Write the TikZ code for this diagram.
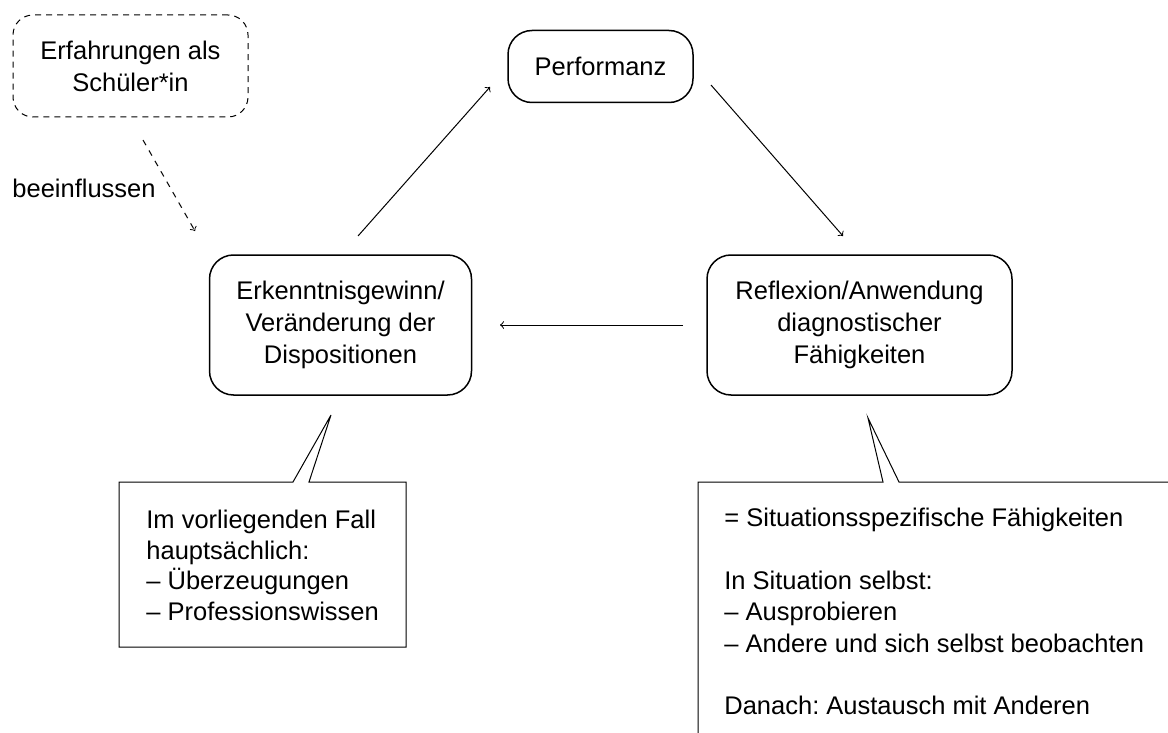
\documentclass[tikz,border=0pt]{standalone}
\usepackage{fontspec}
\setmainfont{Liberation Sans}
\begin{document}
\frenchspacing
\begin{tikzpicture}[x=0.5pt,y=-0.5pt,
  txt/.style={font=\fontsize{12.75}{16}\selectfont, inner sep=0pt},
  mainbox/.style={txt, draw, line width=0.75pt, rounded corners=12pt, align=center},
  dashbox/.style={mainbox, dashed, line width=0.5pt, dash pattern=on 3pt off 2.5pt},
  arr/.style={->, line width=0.5pt},
  callout/.style={line width=0.5pt}]
\useasboundingbox (0,0) rectangle (1168,733);
\clip (0,0) rectangle (1168,733);
% boxes
\node[mainbox, minimum width=92.5pt, minimum height=36pt, rounded corners=12pt] (perf) at (600.5,66.5) {Performanz};
\node[mainbox, minimum width=131pt, minimum height=70pt] (erk) at (340.5,325) {Erkenntnisgewinn/\\Veränderung der\\Dispositionen};
\node[mainbox, minimum width=152.5pt, minimum height=70pt] (refl) at (859.5,325) {Reflexion/Anwendung\\diagnostischer\\Fähigkeiten};
\node[dashbox, minimum width=117.5pt, minimum height=51pt, rounded corners=10pt] (erf) at (130.5,66) {Erfahrungen als\\Schüler*in};
% connector end points
\coordinate (p1) at (358,236);
\coordinate (p2) at (490,87);
\coordinate (p3) at (711,85);
\coordinate (p4) at (843,236);
\coordinate (p5) at (683,325);
\coordinate (p6) at (500,325);
\coordinate (p7) at (143,140);
\coordinate (p8) at (195,231);
\draw[arr] (p1) -- (p2);
\draw[arr] (p3) -- (p4);
\draw[arr] (p5) -- (p6);
\draw[arr, dash pattern=on 3pt off 3pt] (p7) -- (p8);
\node[txt, anchor=west] (lab) at (12,188) {beeinflussen};
% left callout
\draw[callout] (119,482) -- (293,482) -- (331,415) -- (309,482) -- (406,482) -- (406,647) -- (119,647) -- cycle;
\node[txt, font=\fontsize{12.75}{15.2}\selectfont, anchor=north west, align=left] (c1) at (146,510) {Im vorliegenden Fall\\hauptsächlich:\\– Überzeugungen\\– Professionswissen};
% right callout
\draw[callout] (698,745) -- (698,482) -- (883,482) -- (868,418) -- (899,482) -- (1180,482);
\node[txt, font=\fontsize{12.75}{15.65}\selectfont, anchor=north west, align=left] (c2) at (724,508) {= Situationsspezifische Fähigkeiten\\[15.65pt]In Situation selbst:\\– Ausprobieren\\– Andere und sich selbst beobachten\\[15.65pt]Danach: Austausch mit Anderen};
\end{tikzpicture}
\end{document}
